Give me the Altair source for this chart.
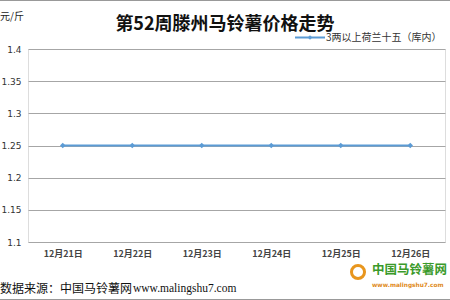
import altair as alt
import pandas as pd

dates = ["12月21日", "12月22日", "12月23日", "12月24日", "12月25日", "12月26日"]
prices = [1.25, 1.25, 1.25, 1.25, 1.25, 1.25]
series_name = "3两以上荷兰十五（库内）"
title_text = "第52周滕州马铃薯价格走势"
unit_text = "元/斤"
source_cn = "数据来源：中国马铃薯网"
source_url = "www.malingshu7.com"
logo_cn = "中国马铃薯网"
logo_url = "www.malingshu7.com"

df = pd.DataFrame({"date": dates, "price": prices})
LINE = "#5b9bd5"
W, H = 417, 193

x = alt.X("date:N", sort=dates, title=None,
          scale=alt.Scale(paddingInner=0, paddingOuter=0),
          axis=alt.Axis(labelAngle=0, labelFont="Noto Sans CJK SC", labelFontSize=9,
                        labelFontWeight="bold", labelColor="#444", ticks=False,
                        domain=False, labelPadding=7, grid=False))
y = alt.Y("price:Q", title=None,
          scale=alt.Scale(domain=[1.1, 1.4], nice=False, zero=False),
          axis=alt.Axis(values=[1.1, 1.15, 1.2, 1.25, 1.3, 1.35, 1.4], format="~g",
                        labelFont="DejaVu Sans", labelFontSize=9, labelColor="#333",
                        ticks=False, domain=False, labelPadding=7,
                        gridColor="#a6a6a6", gridWidth=1))

base = alt.Chart(df)
line = base.mark_line(color=LINE, strokeWidth=2).encode(x=x, y=y)
pts = base.mark_point(shape="diamond", filled=True, color=LINE, size=30, opacity=1).encode(x=x, y=y)

one = pd.DataFrame({"k": [0]})
def txt(t, xx, yy, **kw):
    return alt.Chart(one).mark_text(text=t, **kw).encode(x=alt.value(xx), y=alt.value(yy))

title = txt(title_text, 197, -24, font="Noto Sans CJK SC", fontSize=18, fontWeight="bold",
            color="#111", align="center", baseline="middle")
unit = txt(unit_text, -28, -32, font="Noto Sans CJK SC", fontSize=10, color="#222",
           align="left", baseline="middle")
leg_line = alt.Chart(one).mark_rule(color=LINE, strokeWidth=2).encode(
    x=alt.value(267), x2=alt.value(297), y=alt.value(-11.5))
leg_pt = alt.Chart(one).mark_point(shape="diamond", filled=True, color=LINE, size=20, opacity=1).encode(
    x=alt.value(282), y=alt.value(-11.5))
leg_txt = txt(series_name, 298, -11.5, font="Noto Sans CJK SC", fontSize=10, color="#333",
              align="left", baseline="middle")
src1 = txt(source_cn, -28, 240, font="Noto Sans CJK SC", fontSize=12, color="#111",
           align="left", baseline="middle")
src2 = txt(source_url, 105, 240, font="Liberation Serif", fontSize=11.5, color="#111",
           align="left", baseline="middle")
logo1 = txt(logo_cn, 344, 221, font="Noto Sans CJK SC", fontSize=12.5, fontWeight="bold",
            color="#3a9a2a", align="left", baseline="middle")
logo2 = txt(logo_url, 344, 236, font="DejaVu Sans", fontSize=5.8, fontWeight="bold",
            color="#e08a1a", align="left", baseline="middle")
logo_ic = alt.Chart(one).mark_point(shape="circle", filled=False, color="#e8961e", size=170,
                                    strokeWidth=3, opacity=1).encode(
    x=alt.value(330), y=alt.value(223))
top_border = alt.Chart(one).mark_rule(color="#999", strokeWidth=1).encode(
    x=alt.value(-28), x2=alt.value(422), y=alt.value(-48.5))
bot_border = alt.Chart(one).mark_rule(color="#999", strokeWidth=1).encode(
    x=alt.value(-28), x2=alt.value(422), y=alt.value(250.5))

chart = alt.layer(line, pts, title, unit, leg_line, leg_pt, leg_txt, src1, src2,
                  logo_ic, logo1, logo2, top_border, bot_border).properties(
    width=W, height=H,
    padding={"left": 28, "top": 49, "right": 5, "bottom": 58},
    autosize=alt.AutoSizeParams(type="none"),
).configure_view(stroke=None).configure(background="white")

chart.save("out.html", embed_options={"renderer": "svg", "actions": False})
